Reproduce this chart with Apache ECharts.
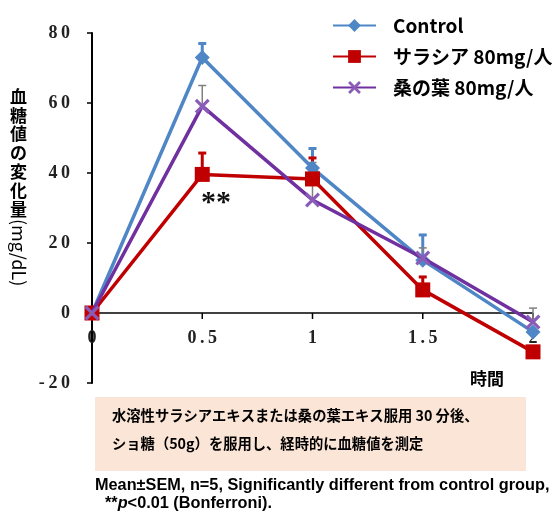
<!DOCTYPE html>
<html><head><meta charset="utf-8">
<script src="https://cdn.jsdelivr.net/npm/echarts@6/dist/echarts.min.js"></script>
<style>html,body{margin:0;padding:0;background:#fff}#c{width:557px;height:513px}</style>
</head><body><div id="c"></div>
<script>
const times = [0, 0.5, 1, 1.5, 2];
const seriesNames = ['Control', 'サラシア 80mg/人', '桑の葉 80mg/人'];
const controlMean = [0, 73, 41.4, 15.1, -5.4];
const controlUpper = [null, 77, 47, 22.3, null];
const salaciaMean = [0, 39.6, 38.3, 6.6, -11.1];
const salaciaUpper = [null, 45.7, 44.3, 10.3, null];
const mulberryMean = [0, 59.1, 32.3, 15.7, -2.6];
const mulberryUpper = [null, 65, 43, 18.6, 1.4];
const xTicks = [0, 0.5, 1, 1.5, 2];
const yTicks = [-20, 0, 20, 40, 60, 80];

const colors = ['#4F86C6', '#C00000', '#7030A0'];
const errColors = ['#4F86C6', '#C00000', '#808080'];
const errWidths = [3, 3, 1.5];

const spaced = s => s.split('').join('\u2009');

const chart = echarts.init(document.getElementById('c'));
const pts = m => times.map((t, i) => [t, m[i]]);
const errData = (m, u) => times.map((t, i) => [t, m[i], u[i]]).filter(d => d[2] != null);

function errSeries(idx, m, u) {
  return {
    type: 'custom', name: seriesNames[idx] + '_err', silent: true, z: 1 + idx,
    data: errData(m, u),
    renderItem: (params, api) => {
      const p0 = api.coord([api.value(0), api.value(1)]);
      const p1 = api.coord([api.value(0), api.value(2)]);
      const st = { stroke: errColors[idx], lineWidth: errWidths[idx] };
      return { type: 'group', children: [
        { type: 'line', shape: { x1: p0[0], y1: p0[1], x2: p1[0], y2: p1[1] }, style: st },
        { type: 'line', shape: { x1: p1[0] - 4, y1: p1[1], x2: p1[0] + 4, y2: p1[1] }, style: st }
      ]};
    }
  };
}

// the x axis line drawn at value 0 with downward ticks, through the axes' scales
const zeroAxisSeries = {
  type: 'custom', name: 'zeroAxis', silent: true, z: 0,
  data: xTicks.map(t => [t, 0]),
  renderItem: (params, api) => {
    const p = api.coord([api.value(0), 0]);
    const st = { stroke: '#000', lineWidth: 1.5 };
    const children = [];
    if (params.dataIndex > 0) {
      children.push({ type: 'line', shape: { x1: p[0], y1: p[1], x2: p[0], y2: p[1] + 6 }, style: st });
    }
    if (params.dataIndex === 0) {
      const a = api.coord([xTicks[0], 0]);
      const b = api.coord([xTicks[xTicks.length - 1], 0]);
      children.push({ type: 'line', shape: { x1: a[0], y1: a[1], x2: b[0], y2: b[1] }, style: st });
    }
    return { type: 'group', children };
  }
};

const crossPath = 'path://M0,1.5L1.5,0L5,3.5L8.5,0L10,1.5L6.5,5L10,8.5L8.5,10L5,6.5L1.5,10L0,8.5L3.5,5Z';

// grid spans -20..80 over 350px; x axis labels sit below value 0 => 70px above the bottom edge
const gridTop = 33, gridBottom = 130, yMin = -20, yMax = 80;
const zeroOffset = -(0 - yMin) / (yMax - yMin) * (513 - gridTop - gridBottom);

chart.setOption({
  animation: false,
  grid: { left: 92, right: 24, top: gridTop, bottom: gridBottom },
  legend: {
    orient: 'vertical', left: 327, top: 11, itemWidth: 43, itemHeight: 16, itemGap: 12,
    data: seriesNames,
    textStyle: { fontFamily: 'Noto Sans CJK JP', fontWeight: 'bold', fontSize: 19, color: '#000', padding: [0, 0, 0, 12] }
  },
  xAxis: {
    type: 'value', min: 0, max: 2, interval: 0.5, position: 'bottom', offset: zeroOffset,
    axisLine: { show: false, onZero: false },
    axisTick: { show: false },
    axisLabel: { show: true, margin: 16, fontFamily: 'Liberation Serif', fontWeight: 'bold', fontSize: 18, color: '#222',
      formatter: v => xTicks.includes(v) ? spaced(String(v)) : '' },
    splitLine: { show: false }
  },
  yAxis: {
    type: 'value', min: yMin, max: yMax, interval: 20,
    axisLine: { show: true, onZero: false, lineStyle: { color: '#000', width: 2 } },
    axisTick: { show: true, length: 5, lineStyle: { color: '#000', width: 1.5 } },
    axisLabel: { margin: 22, fontFamily: 'Liberation Serif', fontWeight: 'bold', fontSize: 18, color: '#222',
      formatter: v => yTicks.includes(v) ? spaced(String(v)) : '' },
    splitLine: { show: false }
  },
  series: [
    zeroAxisSeries,
    errSeries(0, controlMean, controlUpper),
    errSeries(1, salaciaMean, salaciaUpper),
    errSeries(2, mulberryMean, mulberryUpper),
    { type: 'line', name: seriesNames[0], data: pts(controlMean), z: 4,
      symbol: 'diamond', symbolSize: 15, color: colors[0],
      lineStyle: { width: 3.5, color: colors[0] }, itemStyle: { color: colors[0] } },
    { type: 'line', name: seriesNames[1], data: pts(salaciaMean), z: 5,
      symbol: 'rect', symbolSize: 15, color: colors[1],
      lineStyle: { width: 3.5, color: colors[1] }, itemStyle: { color: colors[1] } },
    { type: 'line', name: seriesNames[2], data: pts(mulberryMean), z: 6,
      symbol: crossPath, symbolSize: 15, color: colors[2],
      lineStyle: { width: 3.5, color: colors[2] }, itemStyle: { color: '#8A5CB8' } }
  ],
  graphic: [
    { type: 'text', left: 10, top: 87, style: { text: '血\n糖\n値\nの\n変\n化\n量', fontFamily: 'Noto Sans CJK JP', fontWeight: 'bold', fontSize: 17, lineHeight: 18.8, fill: '#000' } },
    { type: 'text', x: 10, y: 219, rotation: -Math.PI / 2, style: { text: '(mg/dL)', fontFamily: 'Noto Sans CJK JP', fontSize: 18, fill: '#000', verticalAlign: 'bottom' } },
    { type: 'text', left: 201, top: 188, style: { text: '**', fontFamily: 'Liberation Serif', fontWeight: 'bold', fontSize: 30, fill: '#111' } },
    { type: 'text', left: 470, top: 370, style: { text: '時間', fontFamily: 'Noto Sans CJK JP', fontWeight: 'bold', fontSize: 17, fill: '#000' } },
    { type: 'rect', shape: { x: 95, y: 397, width: 431, height: 74 }, style: { fill: '#FBE5D6' } },
    { type: 'text', left: 112, top: 408, style: { text: '水溶性サラシアエキスまたは桑の葉エキス服用 30 分後、', fontFamily: 'Noto Sans CJK JP', fontWeight: 'bold', fontSize: 14.3, fill: '#000' } },
    { type: 'text', left: 112, top: 436, style: { text: 'ショ糖（50g）を服用し、経時的に血糖値を測定', fontFamily: 'Noto Sans CJK JP', fontWeight: 'bold', fontSize: 14.3, fill: '#000' } },
    { type: 'text', left: 95, top: 478, style: { text: 'Mean±SEM, n=5, Significantly different from control group,', fontFamily: 'Liberation Sans', fontWeight: 'bold', fontSize: 16.3, fill: '#000' } },
    { type: 'text', left: 105, top: 496, style: { text: '**{i|p}<0.01 (Bonferroni).', fontFamily: 'Liberation Sans', fontWeight: 'bold', fontSize: 16.3, fill: '#000',
      rich: { i: { fontFamily: 'Liberation Sans', fontWeight: 'bold', fontStyle: 'italic', fontSize: 16.3, fill: '#000' } } } }
  ]
});
</script></body></html>
